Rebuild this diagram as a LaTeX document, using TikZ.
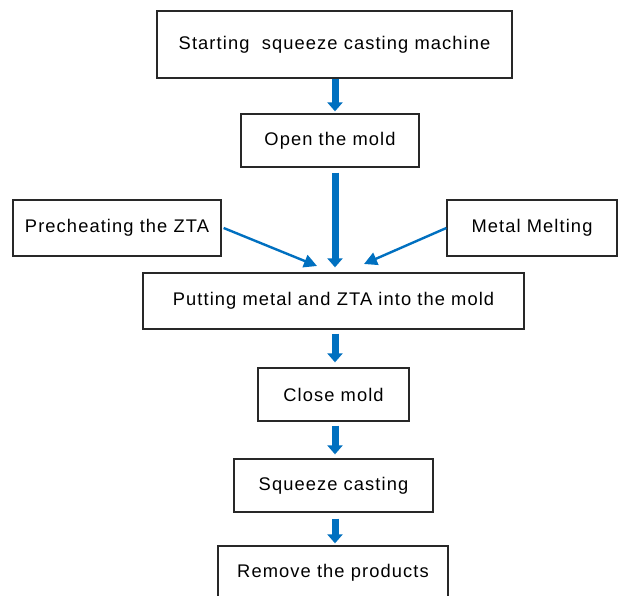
\documentclass[tikz,border=0pt]{standalone}
\usepackage{fontspec}
\setmainfont[LetterSpace=6]{Liberation Sans}
\usepackage{xcolor}
\usetikzlibrary{positioning,calc,arrows.meta}
\definecolor{FlowBlue}{RGB}{0,112,192}
\definecolor{BoxLine}{RGB}{40,40,40}

\begin{document}
\begin{tikzpicture}[
  x=1pt, y=1pt,
  block/.style={rectangle, draw=BoxLine, fill=white, line width=1.3pt, inner sep=0pt, align=center, font=\fontsize{18.3}{20}\selectfont},
  arrow/.style={-{Triangle[width=15pt,length=9pt]}, line width=7pt, draw=FlowBlue},
  sidearrow/.style={-{Triangle[width=13pt,length=13pt]}, line width=2.4pt, draw=FlowBlue}
]
  \clip (0,0) rectangle (618,595);
  \useasboundingbox (0,0) rectangle (618,595);
  \fill[white] (0,0) rectangle (618,595);

  % Nodes
  \node[block, minimum width=355, minimum height=67] (start) at (334.5,550.5) {Starting \ squeeze casting machine};
  \node[block, minimum width=178, minimum height=53] (open) at (330,454.5) {Open the mold};
  \node[block, minimum width=208, minimum height=56] (preheat) at (117,367) {Precheating the ZTA};
  \node[block, minimum width=170, minimum height=56] (melt) at (532,367) {Metal Melting};
  \node[block, minimum width=381, minimum height=56] (putting) at (333.5,294) {Putting metal and ZTA into the mold};
  \node[block, minimum width=151, minimum height=53] (close) at (333.5,200.5) {Close mold};
  \node[block, minimum width=199, minimum height=53] (squeeze) at (333.5,109.5) {Squeeze casting};
  \node[block, minimum width=230, minimum height=54] (remove) at (333,22) {Remove the products};

  % free ends of the side arrows
  \coordinate (leftend) at (317,329);
  \coordinate (rightend) at (364,331);

  % Lines / Arrows
  \draw[arrow, shorten >=2pt] (start.south -| 335,0) -- (open.north -| 335,0);
  \draw[arrow, shorten <=5pt, shorten >=5pt] (open.south -| 335,0) -- (putting.north -| 335,0);
  \draw[arrow, shorten <=4pt, shorten >=5pt] (putting.south -| 335,0) -- (close.north -| 335,0);
  \draw[arrow, shorten <=4pt, shorten >=4pt] (close.south -| 335,0) -- (squeeze.north -| 335,0);
  \draw[arrow, shorten <=6pt, shorten >=2pt] (squeeze.south -| 335,0) -- (remove.north -| 335,0);
  \draw[sidearrow] ($(preheat.east)+(2,0)$) -- (leftend);
  \draw[sidearrow] (melt.west) -- (rightend);
\end{tikzpicture}
\end{document}
